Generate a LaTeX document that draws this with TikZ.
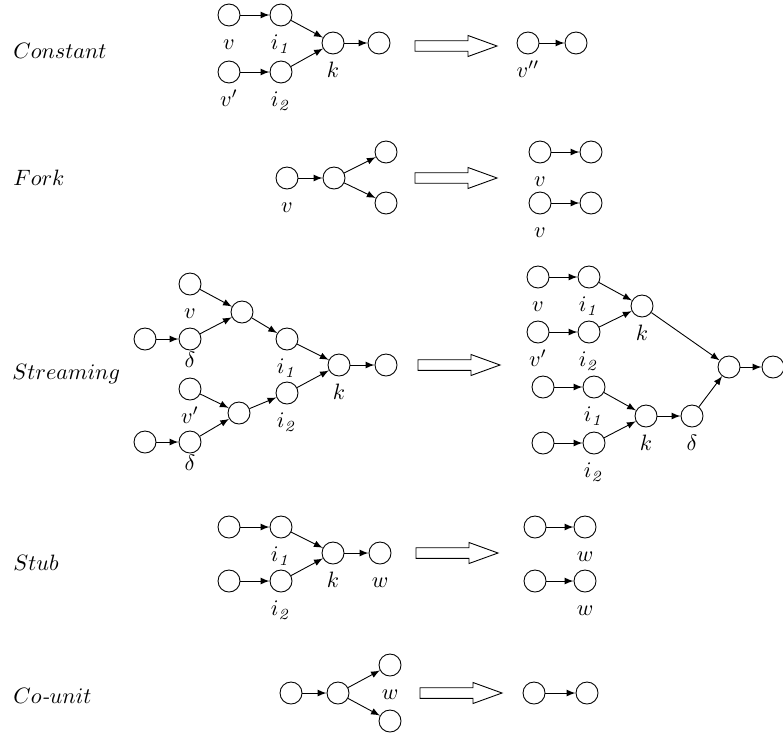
\documentclass[tikz,border=0pt]{standalone}
\usepackage{amsmath,amssymb}
\usepackage{tikz}
\usetikzlibrary{arrows}

\tikzset{rewrite/.pic={\draw (0,-5.3) -- (53,-5.3) -- (53,-10.5) -- (82,0) -- (53,10.5) -- (53,5.3) -- (0,5.3) -- cycle;}}

\begin{document}
\begin{tikzpicture}[x=0.45pt,y=-0.45pt,
    vert/.style={circle,draw,inner sep=0pt,minimum size=9.9pt},
    lb/.style={label distance=10.5pt,anchor=base,inner sep=0pt},
    lbd/.style={label distance=7.5pt,anchor=base,inner sep=0pt},
    row/.style={anchor=base west,inner sep=0pt}]
  \useasboundingbox (0,0) rectangle (783,736);

  \node[row] (rc) at (13,58) {$Constant$};
  \node[vert,label={[lb]below:$v$}] (cv) at (229,15) {};
  \node[vert,label={[lb]below:$i_{\mathit{1}}$}] (ci1) at (281,15) {};
  \node[vert,label={[lb]below:$v'$}] (cw) at (229,72) {};
  \node[vert,label={[lb]below:$i_{\mathit{2}}$}] (ci2) at (281,72) {};
  \node[vert,label={[lb]below:$k$}] (ck) at (333,43) {};
  \node[vert] (co) at (379,43) {};
  \draw[-latex] (cv) -- (ci1);
  \draw[-latex] (cw) -- (ci2);
  \draw[-latex] (ci1) -- (ck);
  \draw[-latex] (ci2) -- (ck);
  \draw[-latex] (ck) -- (co);
  \pic at (415,46) {rewrite};
  \node[vert,label={[lb]below:$v''$}] (cv2) at (528,43) {};
  \node[vert] (co2) at (576,43) {};
  \draw[-latex] (cv2) -- (co2);

  \node[row] (rf) at (13,185) {$Fork$};
  \node[vert,label={[lb]below:$v$}] (fv) at (287,178) {};
  \node[vert] (fm) at (334,178) {};
  \node[vert] (fu) at (386,152) {};
  \node[vert] (fd) at (386,203) {};
  \draw[-latex] (fv) -- (fm);
  \draw[-latex] (fm) -- (fu);
  \draw[-latex] (fm) -- (fd);
  \pic at (415,178) {rewrite};
  \node[vert,label={[lb]below:$v$}] (fa) at (540,152) {};
  \node[vert] (fb) at (591,152) {};
  \node[vert,label={[lb]below:$v$}] (fc) at (540,203) {};
  \node[vert] (fe) at (591,203) {};
  \draw[-latex] (fa) -- (fb);
  \draw[-latex] (fc) -- (fe);

  \node[row] (rs) at (12,379) {$Streaming$};
  \node[vert,label={[lb]below:$v$}] (sv) at (190,284) {};
  \node[vert] (ss1) at (145,339) {};
  \node[vert,label={[lbd]below:$\delta$}] (sd1) at (190,339) {};
  \node[vert] (sm1) at (242,312) {};
  \node[vert,label={[lb]below:$i_{\mathit{1}}$}] (si1) at (287,339) {};
  \node[vert,label={[lb]below:$v'$}] (sw) at (190,389) {};
  \node[vert] (ss2) at (145,442) {};
  \node[vert,label={[lbd]below:$\delta$}] (sd2) at (190,442) {};
  \node[vert] (sm2) at (239,413) {};
  \node[vert,label={[lb]below:$i_{\mathit{2}}$}] (si2) at (287,393) {};
  \node[vert,label={[lb]below:$k$}] (sk) at (339,365) {};
  \node[vert] (so) at (386,365) {};
  \draw[-latex] (sv) -- (sm1);
  \draw[-latex] (ss1) -- (sd1);
  \draw[-latex] (sd1) -- (sm1);
  \draw[-latex] (sm1) -- (si1);
  \draw[-latex] (sw) -- (sm2);
  \draw[-latex] (ss2) -- (sd2);
  \draw[-latex] (sd2) -- (sm2);
  \draw[-latex] (sm2) -- (si2);
  \draw[-latex] (si1) -- (sk);
  \draw[-latex] (si2) -- (sk);
  \draw[-latex] (sk) -- (so);
  \pic at (418,365) {rewrite};
  \node[vert,label={[lb]below:$v$}] (tv) at (538,277) {};
  \node[vert,label={[lb]below:$i_{\mathit{1}}$}] (ti1) at (589,277) {};
  \node[vert,label={[lb]below:$v'$}] (tw) at (538,332) {};
  \node[vert,label={[lb]below:$i_{\mathit{2}}$}] (ti2) at (589,332) {};
  \node[vert,label={[lb]below:$k$}] (tk) at (642,306) {};
  \node[vert] (ts1) at (543,387) {};
  \node[vert,label={[lb]below:$i_{\mathit{1}}$}] (tj1) at (594,387) {};
  \node[vert] (ts2) at (543,443) {};
  \node[vert,label={[lb]below:$i_{\mathit{2}}$}] (tj2) at (594,443) {};
  \node[vert,label={[lb]below:$k$}] (tl) at (646,416) {};
  \node[vert,label={[lb]below:$\delta$}] (td) at (692,416) {};
  \node[vert] (tm) at (729,367) {};
  \node[vert] (to) at (773,367) {};
  \draw[-latex] (tv) -- (ti1);
  \draw[-latex] (tw) -- (ti2);
  \draw[-latex] (ti1) -- (tk);
  \draw[-latex] (ti2) -- (tk);
  \draw[-latex] (ts1) -- (tj1);
  \draw[-latex] (ts2) -- (tj2);
  \draw[-latex] (tj1) -- (tl);
  \draw[-latex] (tj2) -- (tl);
  \draw[-latex] (tl) -- (td);
  \draw[-latex] (tk) -- (tm);
  \draw[-latex] (td) -- (tm);
  \draw[-latex] (tm) -- (to);

  \node[row] (rb) at (13,570) {$Stub$};
  \node[vert] (bs1) at (229,527) {};
  \node[vert,label={[lb]below:$i_{\mathit{1}}$}] (bi1) at (281,527) {};
  \node[vert] (bs2) at (229,581) {};
  \node[vert,label={[lb]below:$i_{\mathit{2}}$}] (bi2) at (281,581) {};
  \node[vert,label={[lb]below:$k$}] (bk) at (333,553) {};
  \node[vert,label={[lb]below:$w$}] (bw) at (380,553) {};
  \draw[-latex] (bs1) -- (bi1);
  \draw[-latex] (bs2) -- (bi2);
  \draw[-latex] (bi1) -- (bk);
  \draw[-latex] (bi2) -- (bk);
  \draw[-latex] (bk) -- (bw);
  \pic at (416,553) {rewrite};
  \node[vert] (ba) at (535,527) {};
  \node[vert,label={[lb]below:$w$}] (bb) at (585,527) {};
  \node[vert] (bc) at (535,581) {};
  \node[vert,label={[lb]below:$w$}] (be) at (585,581) {};
  \draw[-latex] (ba) -- (bb);
  \draw[-latex] (bc) -- (be);

  \node[row] (ru) at (13,703) {$Co$\textit{-}$unit$};
  \node[vert] (us) at (291,693) {};
  \node[vert] (um) at (338,693) {};
  \node[vert,label={[lb]below:$w$}] (uu) at (390,665) {};
  \node[vert] (ud) at (390,721) {};
  \draw[-latex] (us) -- (um);
  \draw[-latex] (um) -- (uu);
  \draw[-latex] (um) -- (ud);
  \pic at (420,693) {rewrite};
  \node[vert] (ua) at (534,693) {};
  \node[vert] (ub) at (587,693) {};
  \draw[-latex] (ua) -- (ub);
\end{tikzpicture}
\end{document}
